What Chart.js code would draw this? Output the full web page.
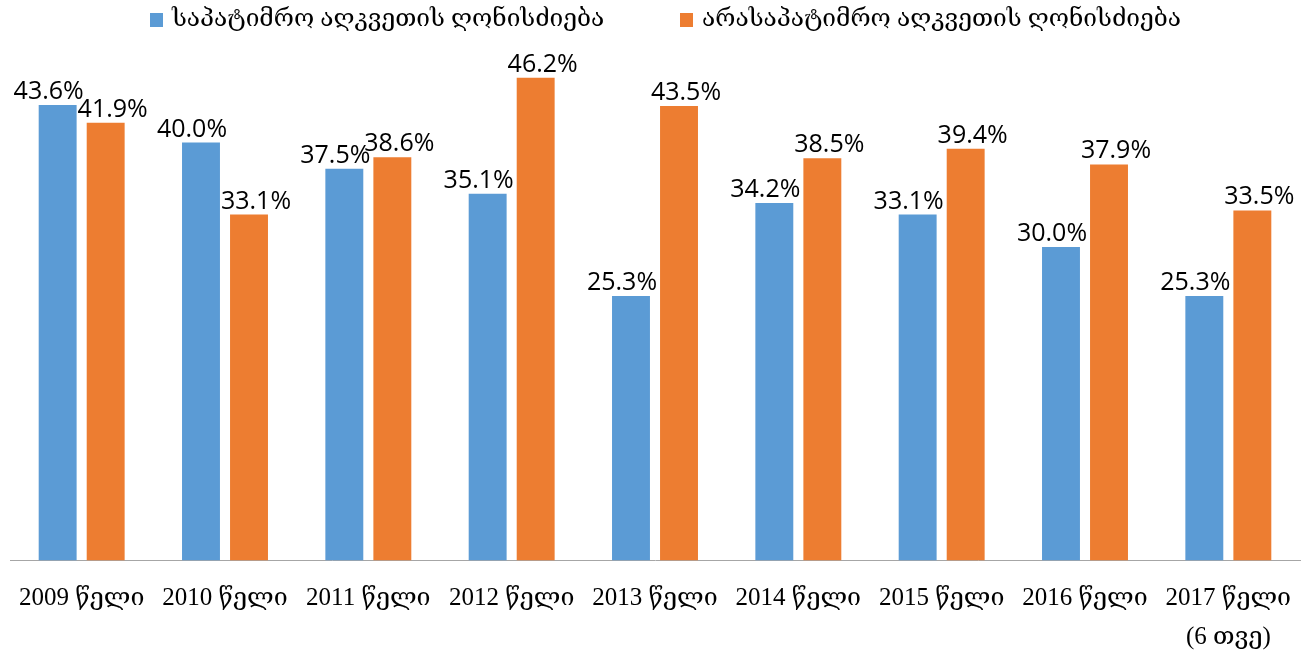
<!DOCTYPE html>
<html lang="ka">
<head>
    <meta charset="UTF-8">
    <title>აღკვეთის ღონისძიება</title>
    <script src="https://cdn.jsdelivr.net/npm/chart.js@4.4.1/dist/chart.umd.min.js"></script>
    <style>
        body {
            margin: 0;
            padding: 0;
            background: #fff;
        }
        #wrap {
            width: 1302px;
            height: 653px;
        }
    </style>
</head>
<body>
    <div id="wrap"><canvas id="chart"></canvas></div>
    <script>
        const years = [
            '2009 წელი', '2010 წელი', '2011 წელი', '2012 წელი', '2013 წელი',
            '2014 წელი', '2015 წელი', '2016 წელი', ['2017 წელი', '(6 თვე)']
        ];
        const seriesNames = ['საპატიმრო აღკვეთის ღონისძიება', 'არასაპატიმრო აღკვეთის ღონისძიება'];
        const custodial = [43.6, 40.0, 37.5, 35.1, 25.3, 34.2, 33.1, 30.0, 25.3];
        const nonCustodial = [41.9, 33.1, 38.6, 46.2, 43.5, 38.5, 39.4, 37.9, 33.5];

        const blue = '#5b9bd5';
        const orange = '#ed7d31';
        const serif = "'Liberation Serif', 'DejaVu Serif', serif";

        // value labels above bars, nudged apart a bit like the original
        const valueLabels = {
            id: 'valueLabels',
            afterDatasetsDraw(chart) {
                const ctx = chart.ctx;
                const shift = [-9, 7];
                ctx.save();
                ctx.font = "25px 'Open Sans', sans-serif";
                ctx.fillStyle = '#000';
                ctx.textAlign = 'center';
                ctx.textBaseline = 'alphabetic';
                chart.data.datasets.forEach((ds, i) => {
                    chart.getDatasetMeta(i).data.forEach((bar, j) => {
                        ctx.fillText(ds.data[j].toFixed(1) + '%', bar.x + shift[i], bar.y - 6);
                    });
                });
                ctx.restore();
            }
        };

        // legend drawn by hand so the gap between the two items can be wide
        const topLegend = {
            id: 'topLegend',
            afterDraw(chart) {
                const ctx = chart.ctx;
                const items = [{x: 150}, {x: 680}];
                ctx.save();
                ctx.font = '24.5px ' + serif;
                ctx.textBaseline = 'middle';
                chart.data.datasets.forEach((ds, i) => {
                    const x = items[i].x;
                    ctx.fillStyle = ds.backgroundColor;
                    ctx.fillRect(x, 13, 13, 14);
                    ctx.fillStyle = '#000';
                    ctx.fillText(ds.label, x + 22, 20);
                });
                ctx.restore();
            }
        };

        new Chart(document.getElementById('chart'), {
            type: 'bar',
            data: {
                labels: years,
                datasets: [
                    {label: seriesNames[0], data: custodial, backgroundColor: blue},
                    {label: seriesNames[1], data: nonCustodial, backgroundColor: orange}
                ]
            },
            options: {
                responsive: true,
                maintainAspectRatio: false,
                animation: false,
                layout: {padding: {top: 38, left: 10, right: 2, bottom: -23}},
                categoryPercentage: 0.67,
                barPercentage: 0.79,
                plugins: {
                    legend: {display: false},
                    tooltip: {enabled: false}
                },
                scales: {
                    x: {
                        grid: {display: false, drawTicks: false},
                        border: {color: '#a6a6a6', width: 1},
                        // labels may hang over the edges, as in the original
                        afterFit(scale) {
                            scale.paddingLeft = 0;
                            scale.paddingRight = 0;
                        },
                        ticks: {
                            color: '#000',
                            padding: 19,
                            maxRotation: 0,
                            autoSkip: false,
                            font: {family: serif, size: 25, lineHeight: 1.55}
                        }
                    },
                    y: {
                        display: false,
                        min: 0,
                        max: 50
                    }
                }
            },
            plugins: [valueLabels, topLegend]
        });
    </script>
</body>
</html>
